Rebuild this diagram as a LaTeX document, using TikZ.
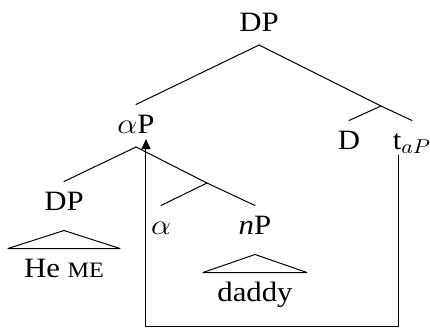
\documentclass[tikz,border=0pt]{standalone}
\usepackage{fontspec}
\setmainfont{Liberation Serif}
\usetikzlibrary{arrows.meta}
\newcommand{\wlbl}[1]{\scalebox{1.1}[1]{#1}}

\begin{document}
\begin{tikzpicture}[x=0.5pt, y=-0.5pt, line cap=round, line join=round, line width=0.5pt,
  >={Triangle[length=5pt,width=4.5pt]},
  every node/.style={font=\fontsize{14}{16}\selectfont, inner sep=0pt},
  cat/.style={anchor=base, text height=14pt, text depth=6.75pt},
  roofcat/.style={cat, text depth=10pt},
  leaf/.style={anchor=north}]
\useasboundingbox (0,0) rectangle (430,329);

% DP -> aP, D t
\node[cat] (dp) at (259,31) {\wlbl{DP}};
\node[cat] (ap) at (136,133) {\wlbl{$\alpha$P}};
\node[cat] (d) at (349,149) {\wlbl{D}};
\node[cat] (t) at (412,149) {\wlbl{t$_{aP}$}};
\coordinate (dbar) at (381,106);
\draw (dp.south) -- (ap.north);
\draw (dp.south) -- (dbar) -- (t.north);
\draw (dbar) -- (d.north);

% aP -> DP, alpha nP
\node[roofcat] (dpl) at (64,210) {\wlbl{DP}};
\node[cat] (al) at (161,234) {\wlbl{$\alpha$}};
\node[roofcat] (np) at (255,234) {\wlbl{\textit{n}P}};
\coordinate (abar) at (207,183);
\draw (ap.south) -- (dpl.north);
\draw (ap.south) -- (abar) -- (np.north);
\draw (abar) -- (al.north);

% roofs
\draw (dpl.south) -- ++(-56,18) -- ++(112,0) -- cycle;
\node[leaf] (heme) at (64,259) {\wlbl{He {\fontsize{11}{12}\selectfont ME}}};
\draw (np.south) -- ++(-52,18) -- ++(104,0) -- cycle;
\node[leaf] (daddy) at (255,282) {\wlbl{daddy}};

% movement
\coordinate (tfoot) at (399,155);
\coordinate (pfoot) at (146,139);
\draw[->] (tfoot) -- ++(0,171) -| (pfoot);

\end{tikzpicture}
\end{document}
